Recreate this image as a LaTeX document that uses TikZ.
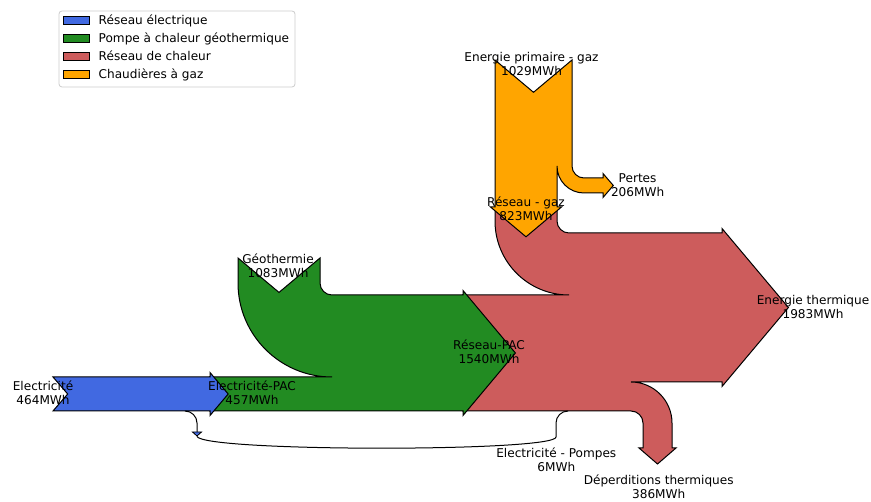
\documentclass[tikz,border=0pt]{standalone}
\usepackage{fontspec}
\setmainfont{DejaVu Sans}
\definecolor{elecblue}{HTML}{4169E1}
\definecolor{pacgreen}{HTML}{228B22}
\definecolor{heatred}{HTML}{CD5C5C}
\definecolor{gasorange}{HTML}{FFA500}
\newcommand\lblfont{\fontsize{12.1}{13.8}\selectfont}
\newcommand\lbltwo[2]{\begin{tabular}[t]{@{}c@{}}#1\\#2\end{tabular}}
\begin{document}
\begin{tikzpicture}[x=1pt,y=-1pt,
  flow/.style={draw=black, line width=1pt, line join=miter},
  thin flow/.style={draw=black, line width=1pt},
  lbl/.style={anchor=base, inner sep=0pt, font=\lblfont},
  legend text/.style={anchor=base west, inner sep=0pt, font=\lblfont},
  legend key/.style={draw=black, line width=0.8pt}]

% canvas
\fill[white] (0,0) rectangle (871,502);
\useasboundingbox (0,0) rectangle (871,502);

% heat network: PAC and gas inputs, thermal output and losses
\path[flow, fill=heatred]
  (463,295) -- (511.7,353) -- (463,411) -- (631,411)
  .. controls (637.6,411) and (643,416.4) .. (643,423)
  -- (643,448) -- (639,448) -- (657.5,464) -- (676,448) -- (672,448) -- (672,423)
  .. controls (672,400.4) and (653.6,382) .. (631,382)
  -- (722,382) -- (722,386.5) -- (788.4,307.5) -- (722,228.5) -- (722,233) -- (569,233)
  .. controls (562.4,233) and (557,227.6) .. (557,221)
  -- (557,207) -- (526,233) -- (495,207) -- (495,221)
  .. controls (495,261.9) and (528.1,295) .. (569,295) -- cycle;

% gas boilers: primary gas in, losses and network gas out
\path[flow, fill=gasorange]
  (495,60) -- (533.5,92.3) -- (572,60) -- (572,166)
  .. controls (572,172.6) and (577.4,178) .. (584,178)
  -- (603,178) -- (603,173.5) -- (613.3,185.5) -- (603,197.5) -- (603,193) -- (584,193)
  .. controls (569.1,193) and (557,180.9) .. (557,166)
  -- (557,207) -- (561.5,207) -- (526,236.8) -- (490.5,207) -- (495,207) -- cycle;

% geothermal heat pump
\path[flow, fill=pacgreen]
  (210,377) -- (332,377)
  .. controls (280.1,377) and (238,334.9) .. (238,283)
  -- (238,258) -- (279,292.4) -- (320,258) -- (320,283)
  .. controls (320,289.6) and (325.4,295) .. (332,295)
  -- (463,295) -- (463,290.5) -- (515.4,353) -- (463,415.5) -- (463,411)
  -- (210,411) -- (224.4,394) -- cycle;

% electricity grid
\path[flow, fill=elecblue]
  (53,377) -- (67.7,394) -- (53,411) -- (210,411) -- (210,415.5)
  -- (228.2,394) -- (210,372.5) -- (210,377) -- cycle;

% pump electricity: small outflow and its link to the heat network
\draw[thin flow] (185,411) .. controls (191.6,411) and (197,416.4) .. (197,423) -- (197,432);
\path[flow, fill=elecblue, line width=0.8pt] (192.5,432) -- (197,436) -- (201.5,432) -- cycle;
\draw[thin flow] (197,436.5) .. controls (205,452) and (556,452) .. (556,437)
  -- (556,423) .. controls (556,416.4) and (561.4,411) .. (568,411);

% flow labels
\node[lbl] (lElec)  at (43,390.7)   {\lbltwo{Electricité}{464MWh}};
\node[lbl] (lPAC)   at (252,390.7)  {\lbltwo{Electricité-PAC}{457MWh}};
\node[lbl] (lGeo)   at (278,263.3)  {\lbltwo{Géothermie}{1083MWh}};
\node[lbl] (lRPAC)  at (489,349.3)  {\lbltwo{Réseau-PAC}{1540MWh}};
\node[lbl] (lPrim)  at (531.5,61.7) {\lbltwo{Energie primaire - gaz}{1029MWh}};
\node[lbl] (lPert)  at (637.6,182.7){\lbltwo{Pertes}{206MWh}};
\node[lbl] (lRgaz)  at (526,206.7)  {\lbltwo{Réseau - gaz}{823MWh}};
\node[lbl] (lTherm) at (813,305)    {\lbltwo{Energie thermique}{1983MWh}};
\node[lbl] (lPomp)  at (556.3,457.3){\lbltwo{Electricité - Pompes}{6MWh}};
\node[lbl] (lDep)   at (658.7,485)  {\lbltwo{Déperditions thermiques}{386MWh}};

% legend
\draw[draw=black!20, fill=white, fill opacity=0.8, line width=0.8pt, rounded corners=3pt]
  (59,11) rectangle (295,87);
\draw[legend key, fill=elecblue]  (63.5,16.3) rectangle (89,24.5);
\draw[legend key, fill=pacgreen]  (63.5,34.3) rectangle (89,42.5);
\draw[legend key, fill=heatred]   (63.5,52.3) rectangle (89,60.5);
\draw[legend key, fill=gasorange] (63.5,70.3) rectangle (89,78.5);
\node[legend text] (kElec) at (98.5,24.3) {Réseau électrique};
\node[legend text] (kPAC)  at (98.5,42.3) {Pompe à chaleur géothermique};
\node[legend text] (kHeat) at (98.5,60.3) {Réseau de chaleur};
\node[legend text] (kGas)  at (98.5,78.3) {Chaudières à gaz};
\end{tikzpicture}
\end{document}
